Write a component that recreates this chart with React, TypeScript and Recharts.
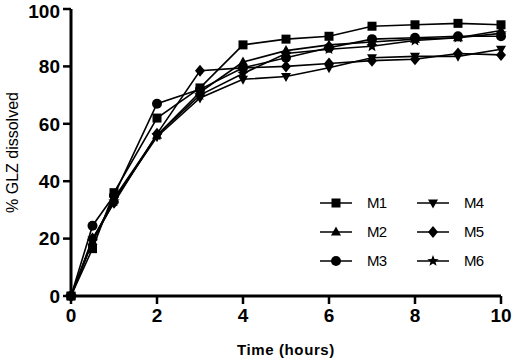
import { LineChart, Line, XAxis, YAxis, Label } from 'recharts';

const hours = [0, 0.5, 1, 2, 3, 4, 5, 6, 7, 8, 9, 10];
const m1 = [0, 16.5, 36, 62, 72.5, 87.5, 89.5, 90.5, 94, 94.5, 95, 94.5];
const m2 = [0, 19, 34, 56, 71, 81.5, 85.5, 87.5, 88.5, 89.5, 90, 92.5];
const m3 = [0, 24.5, 35, 67, 72, 79.5, 83, 86.5, 89.5, 90, 90.5, 90.5];
const m4 = [0, 19.5, 33.5, 55.5, 69, 75.5, 76.5, 79.5, 83, 83.5, 83.5, 86];
const m5 = [0, 20, 32.5, 56.5, 78.5, 79.5, 80, 81, 82, 82.5, 84.5, 84];
const m6 = [0, 19, 33, 56, 70, 77.5, 84.5, 86, 87, 89, 90, 91.5];

const xTicks = [0, 2, 4, 6, 8, 10];
const yTicks = [0, 20, 40, 60, 80, 100];

const FONT = "Arial, 'Liberation Sans', sans-serif";

const data = hours.map((t, i) => ({
  t,
  M1: m1[i],
  M2: m2[i],
  M3: m3[i],
  M4: m4[i],
  M5: m5[i],
  M6: m6[i],
}));

type Shape = 'square' | 'up' | 'circle' | 'down' | 'diamond' | 'star';

function marker(shape: Shape, x: number, y: number, key?: string | number) {
  switch (shape) {
    case 'square':
      return <rect key={key} x={x - 4.5} y={y - 4.5} width={9} height={9} fill="#000" />;
    case 'up':
      return <polygon key={key} points={`${x},${y - 5.5} ${x + 5},${y + 3.5} ${x - 5},${y + 3.5}`} fill="#000" />;
    case 'down':
      return <polygon key={key} points={`${x},${y + 5.5} ${x + 5},${y - 3.5} ${x - 5},${y - 3.5}`} fill="#000" />;
    case 'circle':
      return <circle key={key} cx={x} cy={y} r={5} fill="#000" />;
    case 'diamond':
      return <polygon key={key} points={`${x},${y - 6} ${x + 5},${y} ${x},${y + 6} ${x - 5},${y}`} fill="#000" />;
    case 'star': {
      const pts: string[] = [];
      for (let k = 0; k < 10; k++) {
        const r = k % 2 === 0 ? 6 : 2.6;
        const a = -Math.PI / 2 + (k * Math.PI) / 5;
        pts.push(`${x + r * Math.cos(a)},${y + r * Math.sin(a)}`);
      }
      return <polygon key={key} points={pts.join(' ')} fill="#000" />;
    }
  }
}

const makeDot = (shape: Shape) => (props: any) => {
  const { cx, cy, index } = props;
  if (cx == null || cy == null) return <g key={index} />;
  return marker(shape, cx, cy, index);
};

const series: { key: string; shape: Shape }[] = [
  { key: 'M1', shape: 'square' },
  { key: 'M2', shape: 'up' },
  { key: 'M3', shape: 'circle' },
  { key: 'M4', shape: 'down' },
  { key: 'M5', shape: 'diamond' },
  { key: 'M6', shape: 'star' },
];

// legend drawn as an overlay so it doesn't eat into the plot area
function LegendBox() {
  return (
    <svg width={200} height={90} style={{ position: 'absolute', left: 310, top: 190, display: 'block' }}>
      {series.map((s, i) => {
        const col = Math.floor(i / 3);
        const row = i % 3;
        const x0 = 10 + col * 97;
        const y = 13 + row * 29;
        return (
          <g key={s.key}>
            <line x1={x0} y1={y} x2={x0 + 32} y2={y} stroke="#000" strokeWidth={1.5} />
            {marker(s.shape, x0 + 16, y)}
            <text x={x0 + 47} y={y + 5} fontSize={15} fontFamily={FONT} fill="#000" letterSpacing={-0.8}>
              {s.key}
            </text>
          </g>
        );
      })}
    </svg>
  );
}

export default function App() {
  return (
    <div style={{ position: 'absolute', left: 0, top: 0, width: 515, height: 359, background: '#fff' }}>
      <LineChart width={515} height={359} data={data} margin={{ top: 9, right: 14, bottom: 0, left: 0 }}>
        <XAxis
          dataKey="t"
          type="number"
          domain={[0, 10]}
          ticks={xTicks}
          axisLine={{ stroke: '#000', strokeWidth: 3 }}
          tickLine={{ stroke: '#000', strokeWidth: 2.5 }}
          tickSize={8}
          tickMargin={5}
          tick={{ fill: '#000', fontSize: 19, fontWeight: 'bold', fontFamily: FONT }}
          height={63}
        >
          <Label
            value="Time (hours)"
            position="insideBottom"
            offset={4}
            style={{ fill: '#000', fontSize: 15, fontWeight: 'bold', fontFamily: FONT, letterSpacing: 0.6 }}
          />
        </XAxis>
        <YAxis
          type="number"
          domain={[0, 100]}
          ticks={yTicks}
          width={71}
          axisLine={{ stroke: '#000', strokeWidth: 3 }}
          tickLine={{ stroke: '#000', strokeWidth: 2.5 }}
          tickSize={8}
          tickMargin={3}
          tick={{ fill: '#000', fontSize: 19, fontWeight: 'bold', fontFamily: FONT }}
        >
          <Label
            value="% GLZ dissolved"
            angle={-90}
            position="insideLeft"
            offset={12}
            style={{ fill: '#000', fontSize: 16, fontFamily: FONT, textAnchor: 'middle' }}
          />
        </YAxis>
        {series.map((s) => (
          <Line
            key={s.key}
            dataKey={s.key}
            stroke="#000"
            strokeWidth={1.6}
            dot={makeDot(s.shape)}
            activeDot={false}
            isAnimationActive={false}
          />
        ))}
      </LineChart>
      <LegendBox />
    </div>
  );
}
